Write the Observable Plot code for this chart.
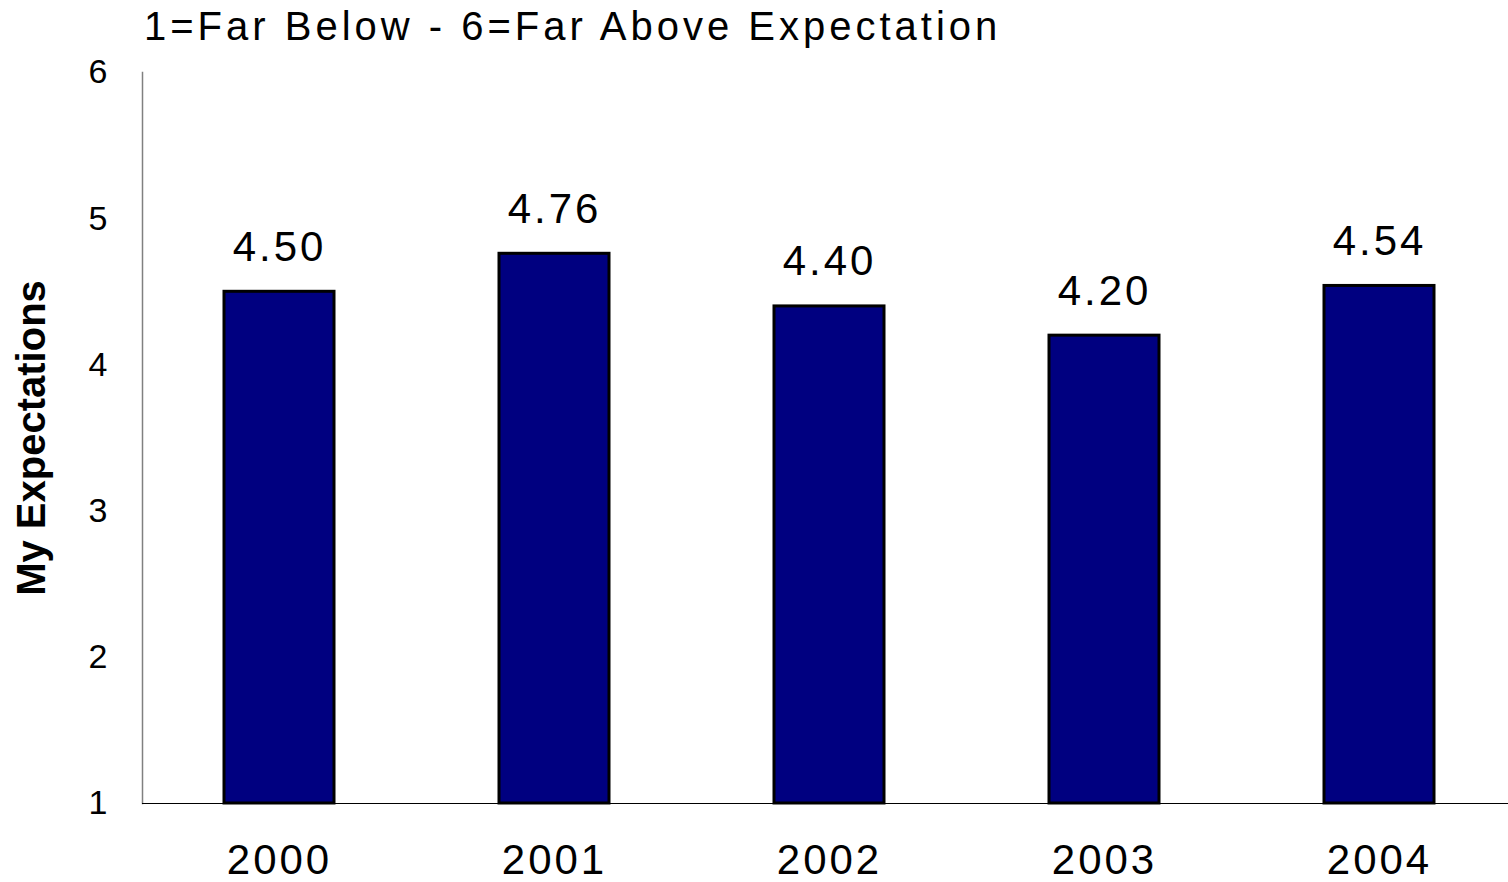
<!DOCTYPE html>
<html>
<head>
<meta charset="utf-8">
<script src="https://cdn.jsdelivr.net/npm/d3@7"></script>
<script src="https://cdn.jsdelivr.net/npm/@observablehq/plot@0.6"></script>
<style>
  html, body { margin: 0; padding: 0; background: #fff; }
  body { width: 1508px; height: 882px; overflow: hidden; font-family: "Liberation Sans", Arial, sans-serif; }
  #title { height: 50px; line-height: 52px; font-size: 40px; letter-spacing: 4px; padding-left: 144px; color: #000; white-space: nowrap; }
  #chart svg { display: block; overflow: visible; }
</style>
</head>
<body>
<div id="title">1=Far Below - 6=Far Above Expectation</div>
<div id="chart"></div>
<script>
const years = ["2000", "2001", "2002", "2003", "2004"];
const values = [4.50, 4.76, 4.40, 4.20, 4.54];
const yTicks = [1, 2, 3, 4, 5, 6];
const yLabel = "My Expectations";

const data = years.map((year, i) => ({year, value: values[i]}));

const chart = Plot.plot({
  width: 1508,
  height: 832,
  marginTop: 22,
  marginBottom: 79,
  marginLeft: 142,
  marginRight: 0,
  style: {fontFamily: "Liberation Sans, Arial, sans-serif", color: "#000", background: "#fff", overflow: "visible"},
  x: {domain: years, range: [142, 1516], paddingInner: 0.6, paddingOuter: 0.29},
  y: {domain: [1, 6], range: [753, 22]},
  marks: [
    Plot.barY(data, {x: "year", y1: 1, y2: "value", fill: "#000080", stroke: "#000", strokeWidth: 3}),
    Plot.text(data, {x: "year", y: "value", text: d => d.value.toFixed(2), lineAnchor: "bottom", dy: -31, fontSize: 42, fill: "#000"}),
    Plot.frame({anchor: "left", stroke: "#808080", strokeWidth: 1.5}),
    Plot.ruleY([1], {stroke: "#000", strokeWidth: 1.2}),
    Plot.axisY({ticks: yTicks, tickSize: 0, tickPadding: 35, fontSize: 34, label: null, tickFormat: d => String(d)}),
    Plot.axisX({tickSize: 0, tickPadding: 41, fontSize: 42, label: null}),
    Plot.text([yLabel], {frameAnchor: "left", textAnchor: "middle", rotate: -90, dx: -110, fontSize: 40, fontWeight: "bold", fill: "#000"})
  ]
});
document.getElementById("chart").appendChild(chart);
d3.select(chart).selectAll("g[aria-label='text'] text").filter(function() { return this.textContent !== yLabel; }).attr("letter-spacing", 3);
d3.select(chart).selectAll("g[aria-label='x-axis tick label'] text").attr("letter-spacing", 3);
</script>
</body>
</html>
